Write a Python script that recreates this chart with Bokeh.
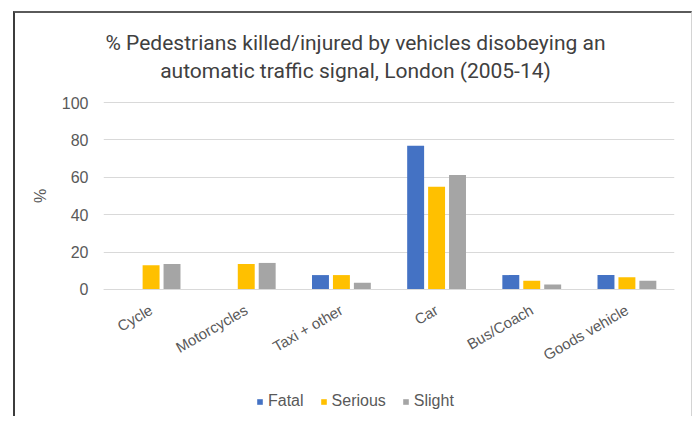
import math
from bokeh.plotting import figure
from bokeh.models import ColumnDataSource, Legend, LegendItem, Label, FixedTicker, Range1d
from bokeh.transform import dodge
from bokeh.embed import file_html
from bokeh.resources import INLINE

# ---- data ----
categories = ["Cycle", "Motorcycles", "Taxi + other", "Car", "Bus/Coach", "Goods vehicle"]
fatal = [0, 0, 7.7, 76.9, 7.7, 7.7]
serious = [13.0, 13.6, 7.7, 54.9, 4.7, 6.6]
slight = [13.6, 14.2, 3.6, 61.2, 2.7, 4.7]
series_names = ["Fatal", "Serious", "Slight"]
series_colors = ["#4472C4", "#FFC000", "#A5A5A5"]
y_ticks = [0, 20, 40, 60, 80, 100]
title_lines = ["% Pedestrians killed/injured by vehicles disobeying an",
               "automatic traffic signal, London (2005-14)"]
y_label = "%"

src = ColumnDataSource(dict(cat=categories, Fatal=fatal, Serious=serious, Slight=slight))

W, H = 679, 405
# the frame spans the whole height; the value axis 0..100 occupies the middle part of it
p = figure(x_range=categories, y_range=Range1d(-69.0, 147.6), width=W, height=H,
           output_backend="svg", toolbar_location=None,
           min_border_left=88, min_border_right=20, min_border_top=0, min_border_bottom=0)
p.styles = {"margin-left": "13px", "margin-top": "11px",
            "border-left": "2px solid #3c3c3c", "border-top": "2px solid #5a5a5a",
            "border-right": "1px solid #d4d4d4"}

offsets = [-0.22, 0.0, 0.22]
renderers = []
for name, col, off in zip(series_names, series_colors, offsets):
    r = p.vbar(x=dodge("cat", off, range=p.x_range), top=name, width=0.178,
               source=src, fill_color=col, line_color=None)
    renderers.append(r)

legend = Legend(items=[LegendItem(label=n, renderers=[r]) for n, r in zip(series_names, renderers)],
                orientation="horizontal", location=(153, 8),
                glyph_width=7, glyph_height=7, label_standoff=5, spacing=16,
                label_text_font="Liberation Sans", label_text_font_size="16px",
                label_text_color="#595959", label_height=18,
                padding=0, margin=0, border_line_color=None, background_fill_alpha=0)
p.add_layout(legend, "center")

p.outline_line_color = None
p.xgrid.grid_line_color = None
p.ygrid.grid_line_color = "#D9D9D9"
p.ygrid.grid_line_width = 1

p.yaxis.ticker = FixedTicker(ticks=y_ticks)
p.yaxis.bounds = (0, 100)
p.yaxis.axis_line_color = None
p.yaxis.major_tick_line_color = None
p.yaxis.minor_tick_line_color = None
p.yaxis.major_label_text_font = "Liberation Sans"
p.yaxis.major_label_text_font_size = "16px"
p.yaxis.major_label_text_color = "#595959"
p.yaxis.major_label_standoff = 9
# leading no-break spaces lift the rotated "%" to the middle of the 0..100 scale
p.yaxis.axis_label = "\u00a0" * 9 + y_label
p.yaxis.axis_label_text_font = "Liberation Sans"
p.yaxis.axis_label_text_font_size = "16px"
p.yaxis.axis_label_text_font_style = "normal"
p.yaxis.axis_label_text_color = "#595959"
p.yaxis.axis_label_standoff = 10

p.xaxis.fixed_location = 0
p.xaxis.axis_line_color = "#D9D9D9"
p.xaxis.major_tick_line_color = None
p.xaxis.minor_tick_line_color = None
p.xaxis.major_label_orientation = math.pi / 6
p.xaxis.major_label_text_font = "Liberation Sans"
p.xaxis.major_label_text_font_size = "15px"
p.xaxis.major_label_text_color = "#595959"
p.xaxis.major_label_standoff = 13

for t, yy in zip(title_lines, [376, 348]):
    p.add_layout(Label(x=252, y=yy, x_units="screen", y_units="screen", text=t,
                       text_align="center", text_baseline="middle",
                       text_font="Roboto", text_font_size="21px",
                       text_color="#404040"))

open("out.html", "w").write(file_html(p, INLINE))
